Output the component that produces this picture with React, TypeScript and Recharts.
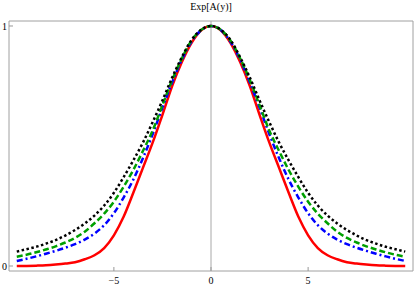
import { LineChart, Line, XAxis, YAxis, ReferenceLine, ReferenceArea } from 'recharts'

const xs = [
    -10, -9.5, -9, -8.5, -8, -7.5, -7, -6.5, -6, -5.5, -5, -4.5, -4, -3.5, -3, -2.5, -2, -1.5, -1, -0.5,
    0, 0.5, 1, 1.5, 2, 2.5, 3, 3.5, 4, 4.5, 5, 5.5, 6, 6.5, 7, 7.5, 8, 8.5, 9, 9.5, 10,
];

const redSolid = [
    0.0, 0.0005, 0.0015, 0.003, 0.006, 0.01, 0.016, 0.028, 0.045, 0.075, 0.128, 0.205, 0.305, 0.41, 0.515, 0.63, 0.75, 0.85, 0.93, 0.982,
    1, 0.982, 0.93, 0.85, 0.75, 0.63, 0.515, 0.41, 0.305, 0.205, 0.128, 0.075, 0.045, 0.028, 0.016, 0.01, 0.006, 0.003, 0.0015, 0.0005, 0.0,
];

const blueDashDot = [
    0.021, 0.03, 0.04, 0.051, 0.063, 0.076, 0.091, 0.11, 0.135, 0.17, 0.22, 0.285, 0.36, 0.45, 0.55, 0.66, 0.765, 0.86, 0.935, 0.983,
    1, 0.983, 0.935, 0.86, 0.765, 0.66, 0.55, 0.45, 0.36, 0.285, 0.22, 0.17, 0.135, 0.11, 0.091, 0.076, 0.063, 0.051, 0.04, 0.03, 0.021,
];

const greenDashed = [
    0.039, 0.047, 0.057, 0.069, 0.082, 0.098, 0.117, 0.143, 0.178, 0.218, 0.268, 0.33, 0.4, 0.48, 0.565, 0.67, 0.775, 0.865, 0.94, 0.984,
    1, 0.984, 0.94, 0.865, 0.775, 0.67, 0.565, 0.48, 0.4, 0.33, 0.268, 0.218, 0.178, 0.143, 0.117, 0.098, 0.082, 0.069, 0.057, 0.047, 0.039,
];

const blackDotted = [
    0.06, 0.07, 0.08, 0.093, 0.108, 0.127, 0.15, 0.177, 0.21, 0.252, 0.305, 0.37, 0.44, 0.515, 0.6, 0.69, 0.785, 0.87, 0.942, 0.985,
    1, 0.985, 0.942, 0.87, 0.785, 0.69, 0.6, 0.515, 0.44, 0.37, 0.305, 0.252, 0.21, 0.177, 0.15, 0.127, 0.108, 0.093, 0.08, 0.07, 0.06,
];

const xTicks = [-5, 0, 5];
const yTicks = [0, 1];
const xDomain = [-10.4, 10.4];
const yDomain = [-0.0208, 1.0208];

const data = xs.map((x, i) => ({
    x,
    red: redSolid[i],
    blue: blueDashDot[i],
    green: greenDashed[i],
    black: blackDotted[i],
}));

const font = { fontFamily: '"Liberation Serif", serif', fontSize: 10, fill: '#000' };

const App = () => {
    return (
        <div style={{ position: 'absolute', left: 0, top: 0, width: 415, height: 287, background: '#fff' }}>
            <div style={{
                position: 'absolute', left: 9, top: 0, width: 404, textAlign: 'center',
                fontFamily: '"Liberation Serif", serif', fontSize: 10, lineHeight: '13px', color: '#000',
            }}>
                Exp[A(y)]
            </div>
            <LineChart width={415} height={287} data={data} margin={{ top: 21, right: 2, left: 0, bottom: 0 }}>
                <XAxis
                    dataKey="x"
                    type="number"
                    domain={xDomain}
                    ticks={xTicks}
                    allowDataOverflow
                    height={16}
                    tick={font}
                    tickSize={-4}
                    tickMargin={10}
                    tickLine={{ stroke: '#999' }}
                    axisLine={false}
                    tickFormatter={(v: number) => String(v).replace('-', '\u2212')}
                />
                <YAxis
                    type="number"
                    domain={yDomain}
                    ticks={yTicks}
                    allowDataOverflow
                    width={9}
                    tick={font}
                    tickSize={-4}
                    tickMargin={6}
                    tickLine={{ stroke: '#999' }}
                    axisLine={false}
                />
                <ReferenceArea x1={xDomain[0]} x2={xDomain[1]} y1={yDomain[0]} y2={yDomain[1]} fill="none" stroke="#a0a0a0" strokeWidth={1} ifOverflow="visible" />
                <ReferenceLine x={0} stroke="#a8a8a8" strokeWidth={1} />
                <Line type="monotone" dataKey="red" stroke="#ff0000" strokeWidth={2.5} dot={false} isAnimationActive={false} />
                <Line type="monotone" dataKey="blue" stroke="#0000ff" strokeWidth={2.5} strokeDasharray="6 3 2 3" dot={false} isAnimationActive={false} />
                <Line type="monotone" dataKey="green" stroke="#00a000" strokeWidth={2.5} strokeDasharray="6 3" dot={false} isAnimationActive={false} />
                <Line type="monotone" dataKey="black" stroke="#000" strokeWidth={2.5} strokeDasharray="2.5 2.5" dot={false} isAnimationActive={false} />
            </LineChart>
        </div>
    );
};

export default App;
